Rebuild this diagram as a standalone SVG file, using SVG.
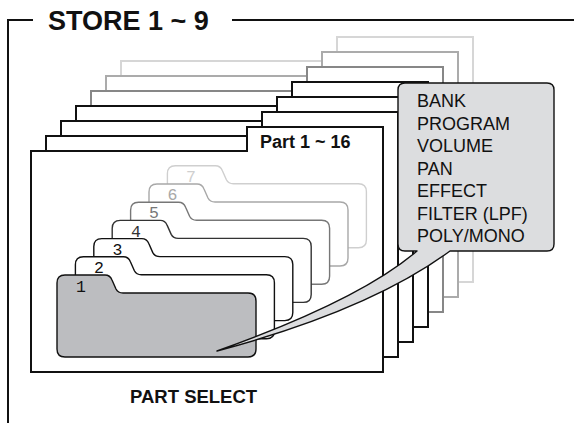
<svg xmlns="http://www.w3.org/2000/svg" xmlns:xlink="http://www.w3.org/1999/xlink" width="574" height="423" viewBox="0 0 574 423">
<style>
.page{fill:#fff;stroke-width:2;stroke-linejoin:miter}
.fold{fill:#fff;stroke-width:1.4}
.num{font-family:"Liberation Mono",monospace;font-size:16.5px;text-anchor:middle}
.bold{font-family:"Liberation Sans",Arial,sans-serif;font-weight:bold;fill:#111}
.item{font-family:"Liberation Sans",Arial,sans-serif;font-size:18px;fill:#111}
.frame{fill:none;stroke:#111;stroke-width:2}
</style>
<defs>
<path id="pg" d="M0,24 H216 V0 H352 V245 H0 Z"/>
<path id="fd" d="M0,8 Q0,0 8,0 H48 Q53,0 55,5 L59,14 Q61,18 66,18 H191 Q199,18 199,26 V74 Q199,82 191,82 H8 Q0,82 0,74 Z"/>
</defs>
<g id="frame">
<path class="frame" d="M8,423 V20 H33 M232,20 H574"/>
<text class="bold" x="48" y="30" font-size="27">STORE 1 ~ 9</text>
</g>
<g id="pages">
<use href="#pg" class="page" stroke="#d6d6d6" transform="translate(121,37)"/>
<use href="#pg" class="page" stroke="#ababab" transform="translate(106,52)"/>
<use href="#pg" class="page" stroke="#878787" transform="translate(91,67)"/>
<use href="#pg" class="page" stroke="#111" transform="translate(76,82)"/>
<use href="#pg" class="page" stroke="#111" transform="translate(61,97)"/>
<use href="#pg" class="page" stroke="#111" transform="translate(46,112)"/>
<g id="front-page">
<use href="#pg" class="page" stroke="#111" transform="translate(31,127)"/>
<text class="bold" x="260" y="148" font-size="18">Part 1 ~ 16</text>
<text class="bold" x="130" y="403" font-size="18.5">PART SELECT</text>
</g>
</g>
<g id="folders">
<g id="part7"><use href="#fd" class="fold" stroke="#cfcfcf" transform="translate(167.4,165.8)"/><text class="num" fill="#cfcfcf" x="191" y="182">7</text></g>
<g id="part6"><use href="#fd" class="fold" stroke="#a8a8a8" transform="translate(149,184)"/><text class="num" fill="#a8a8a8" x="172.5" y="200">6</text></g>
<g id="part5"><use href="#fd" class="fold" stroke="#777" transform="translate(130.6,202.2)"/><text class="num" fill="#777" x="154" y="218">5</text></g>
<g id="part4"><use href="#fd" class="fold" stroke="#333" transform="translate(112.2,220.4)"/><text class="num" fill="#333" x="136" y="237">4</text></g>
<g id="part3"><use href="#fd" class="fold" stroke="#111" transform="translate(93.8,238.6)"/><text class="num" fill="#111" x="117.5" y="255">3</text></g>
<g id="part2"><use href="#fd" class="fold" stroke="#111" transform="translate(75.4,256.8)"/><text class="num" fill="#111" x="99" y="273">2</text></g>
<g id="part1"><use href="#fd" class="fold" stroke="#111" style="fill:#bcbdc0" transform="translate(57,275)"/><text class="num" fill="#111" x="81" y="292">1</text></g>
</g>
<g id="callout">
<path d="M405,83 H547 Q554,83 554,90 V244 Q554,251 547,251 H450 Q370,310 217,351 Q360,300 417,251 H405 Q398,251 398,244 V90 Q398,83 405,83 Z" fill="#dcdddf" stroke="#111" stroke-width="1.4" stroke-linejoin="round"/>
<text class="item" x="417" y="107">BANK</text>
<text class="item" x="417" y="129.5">PROGRAM</text>
<text class="item" x="417" y="152">VOLUME</text>
<text class="item" x="417" y="174.5">PAN</text>
<text class="item" x="417" y="197">EFFECT</text>
<text class="item" x="417" y="219.5">FILTER (LPF)</text>
<text class="item" x="417" y="242">POLY/MONO</text>
</g>
</svg>
